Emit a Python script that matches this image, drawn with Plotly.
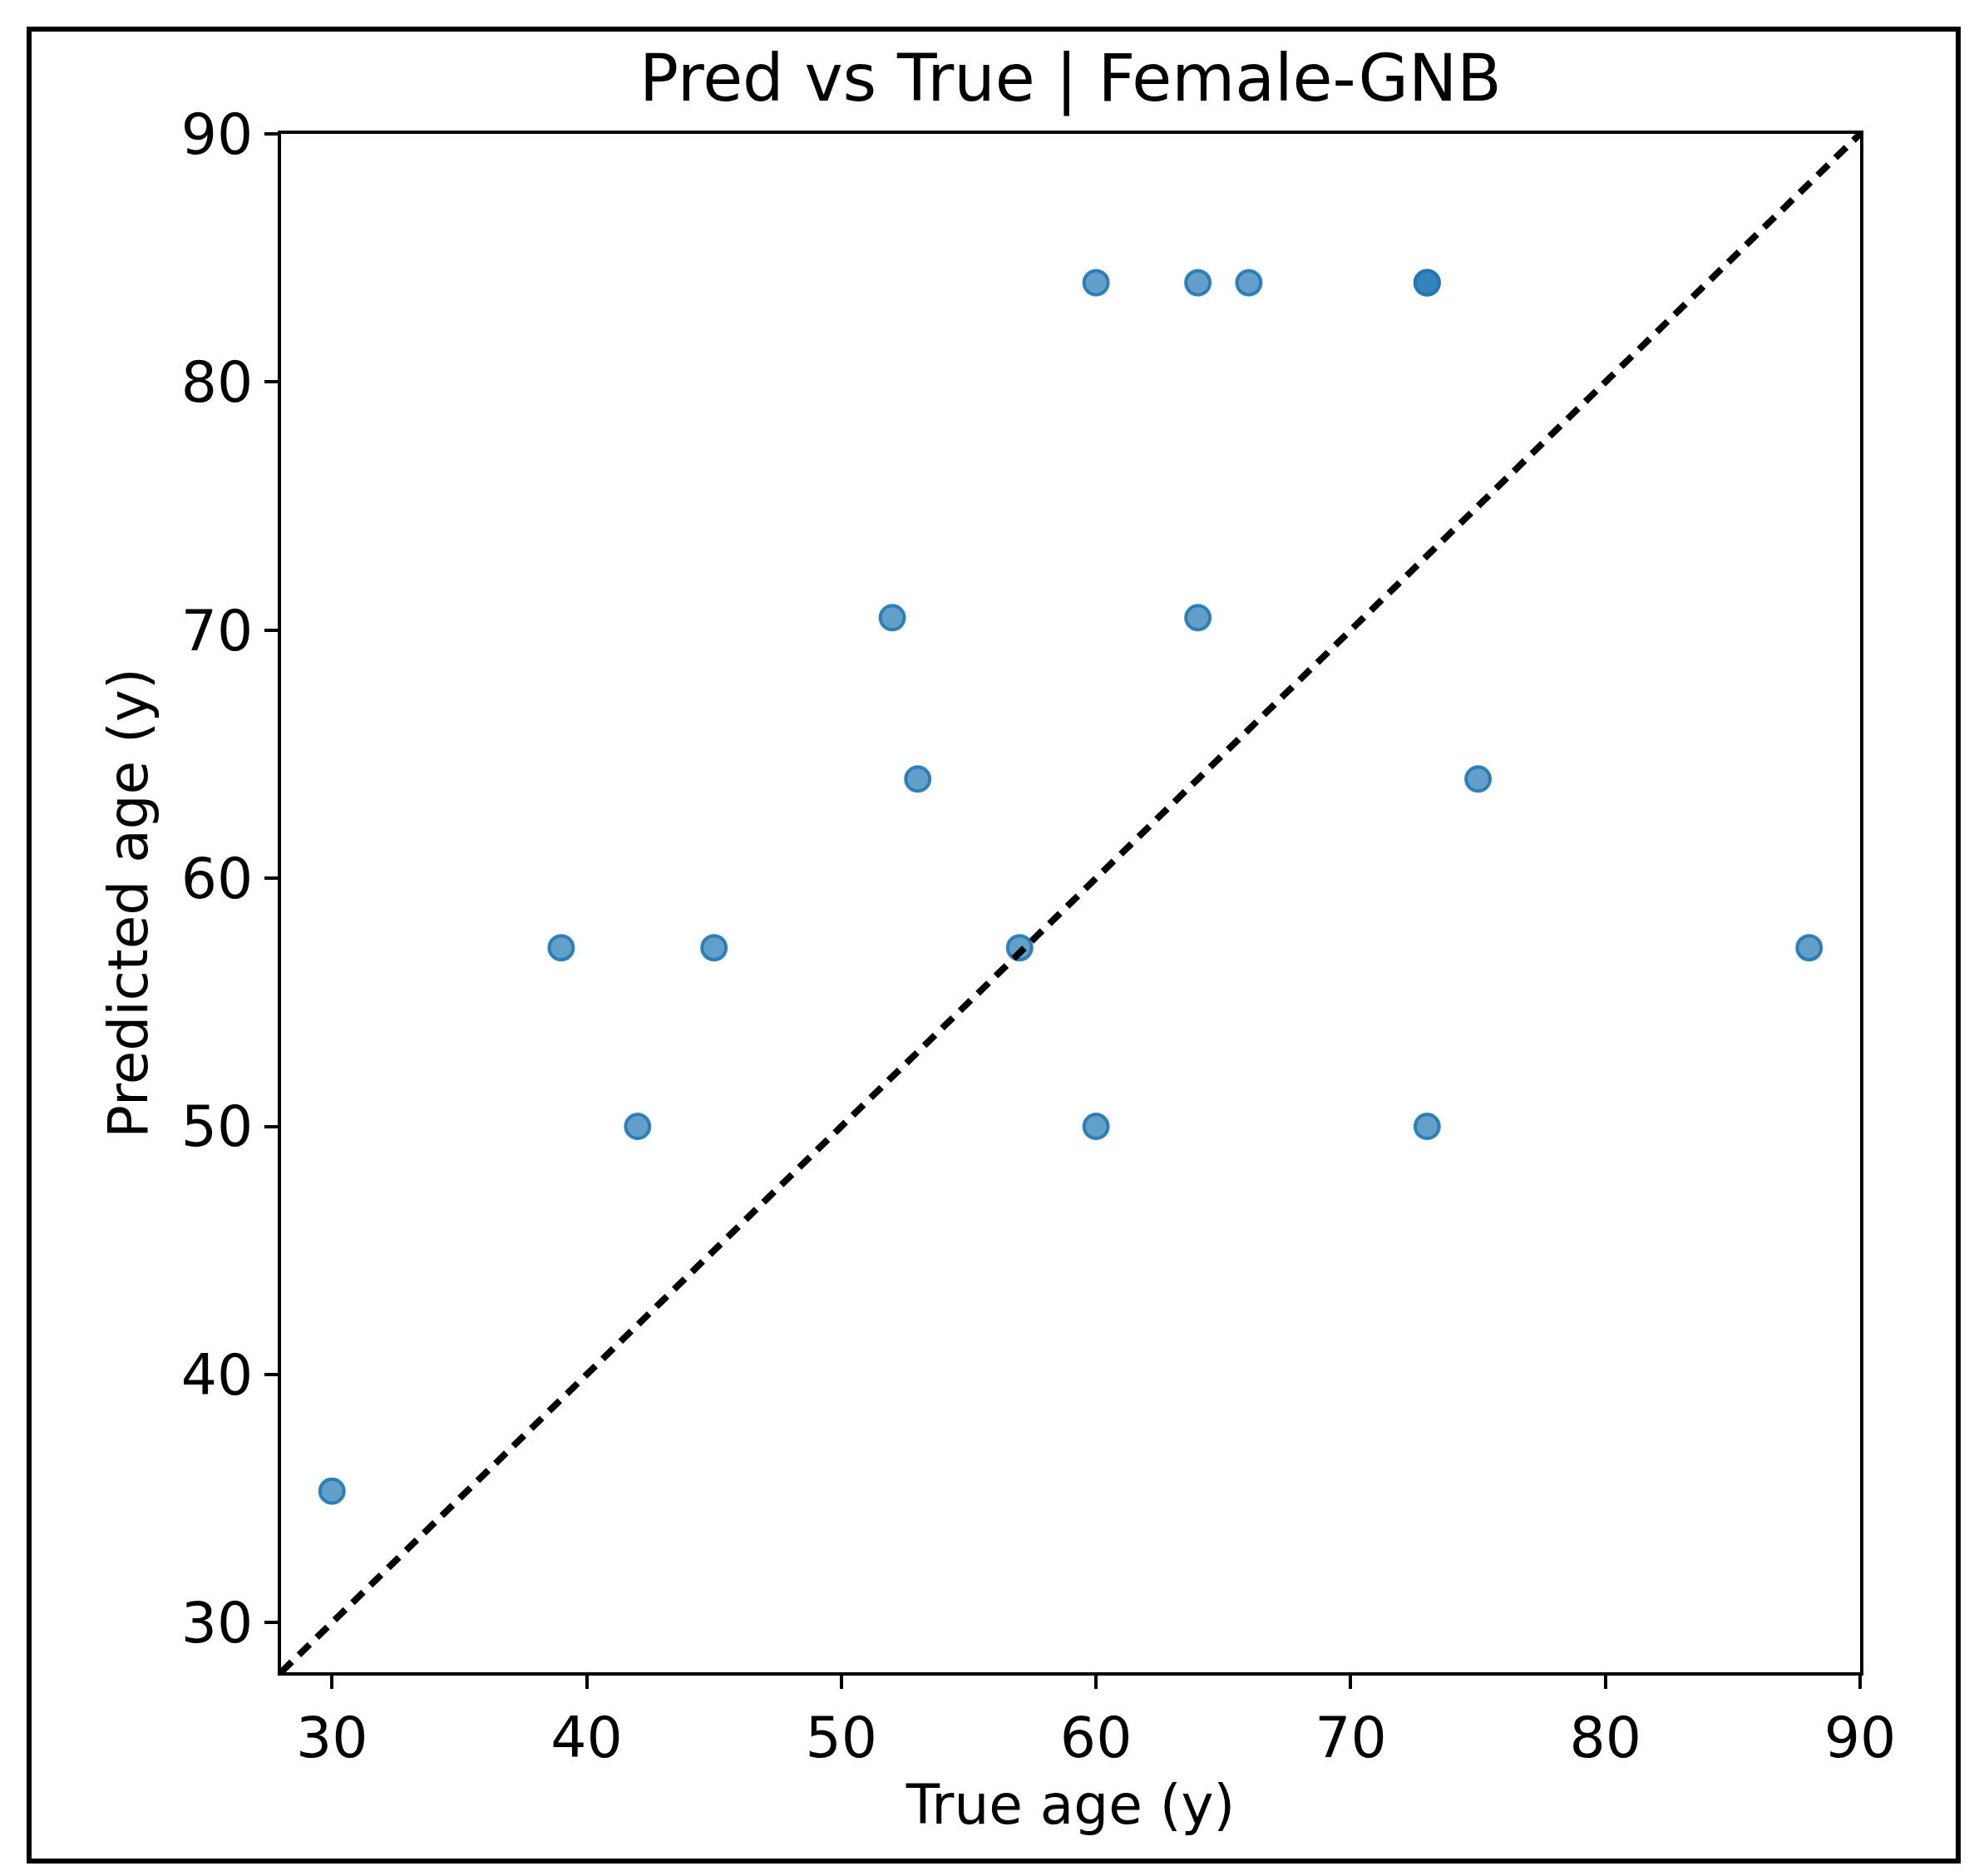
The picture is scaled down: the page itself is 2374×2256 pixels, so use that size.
import plotly.graph_objects as go

true_age = [30, 39, 42, 45, 52, 53, 57, 60, 60, 64, 64, 66, 73, 73, 73, 75, 88]
pred_age = [35.3, 57.2, 50, 57.2, 70.5, 64, 57.2, 84, 50, 84, 70.5, 84, 84, 84, 50, 64, 57.2]
line_x = [28, 90]
line_y = [28, 90]
ticks = [30, 40, 50, 60, 70, 80, 90]

W, H = 2374, 2256
L, R, T, B = 330, 2229, 153, 2003
pw, ph = R - L, B - T
font = "DejaVu Sans"

fig = go.Figure()
fig.add_trace(go.Scatter(x=true_age, y=pred_age, mode="markers",
    marker=dict(size=29, color="rgba(31,119,180,0.7)", line=dict(color="rgba(31,119,180,0.9)", width=4)),
    showlegend=False))
fig.add_trace(go.Scatter(x=line_x, y=line_y, mode="lines",
    line=dict(color="black", width=8, dash="18px,12px"), showlegend=False))

ax = dict(range=[28, 90], tickvals=ticks, showgrid=False, zeroline=False, showline=True,
          mirror=True, linecolor="black", linewidth=4, ticks="outside", ticklen=16,
          tickwidth=4, tickcolor="black", tickfont=dict(size=68, family=font, color="black"))
fig.update_layout(
    width=W, height=H, paper_bgcolor="white", plot_bgcolor="white",
    margin=dict(l=L, r=W - R, t=T, b=H - B),
    xaxis=dict(ax, title=dict(text="True age (y)", font=dict(size=66, family=font, color="black"), standoff=20)),
    yaxis=dict(ax, title=dict(text="Predicted age (y)", font=dict(size=66, family=font, color="black"), standoff=20)),
    title=dict(text="Pred vs True | Female-GNB", x=(L + pw / 2) / W, xanchor="center",
               y=1 - 86 / H, yanchor="middle", font=dict(size=78, family=font, color="black")),
    shapes=[dict(type="rect", xref="paper", yref="paper",
                 x0=(27 - L) / pw, x1=(2347 - L) / pw,
                 y0=(B - 2230) / ph, y1=(B - 27) / ph,
                 line=dict(color="black", width=6))],
)
fig.write_html("out.html")
